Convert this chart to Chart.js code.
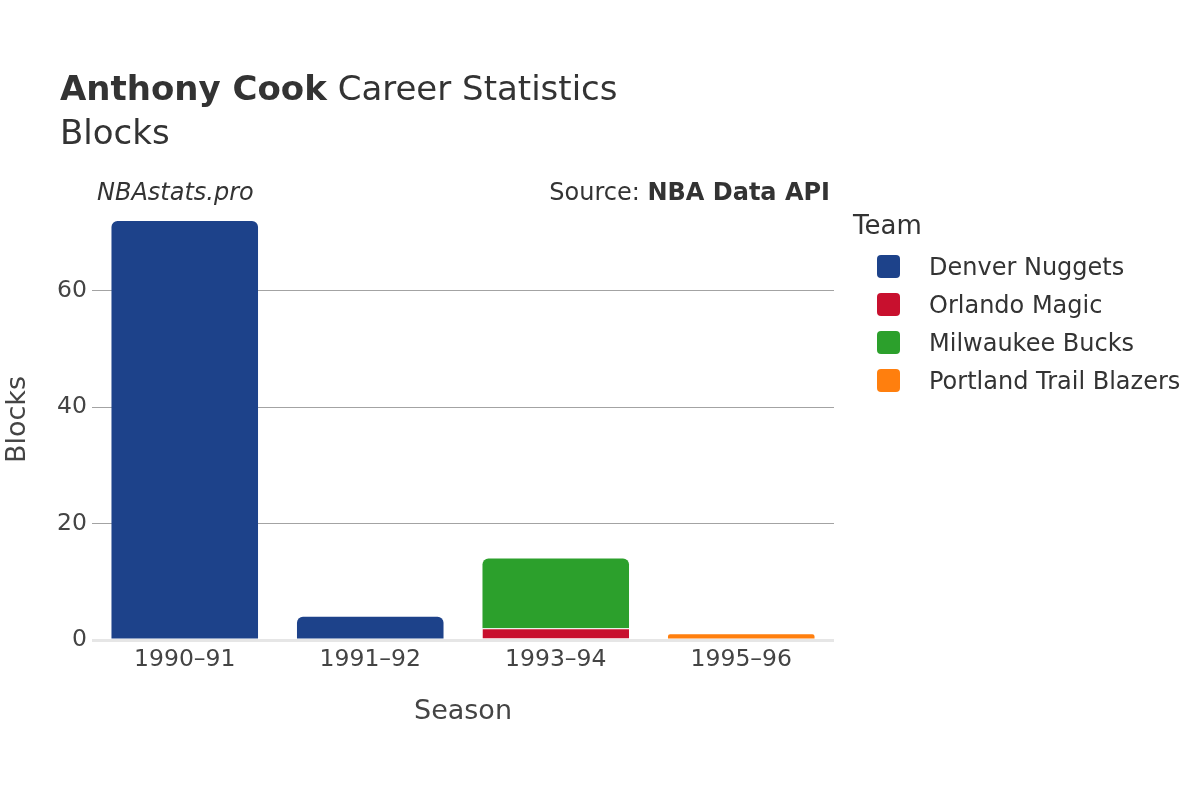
<!DOCTYPE html>
<html>
<head>
<meta charset="utf-8">
<script src="https://cdn.jsdelivr.net/npm/chart.js@4.4.1/dist/chart.umd.min.js"></script>
<style>
  html, body { margin: 0; padding: 0; background: #fff; }
  #wrap { position: relative; width: 1200px; height: 800px; font-family: "DejaVu Sans", sans-serif; color: #333; }
  #chart { position: absolute; left: 0; top: 0; }
  .txt { position: absolute; white-space: nowrap; line-height: 1; }
  #title { left: 60px; top: 71px; font-size: 34px; }
  #subtitle { left: 60px; top: 115px; font-size: 34px; }
  #credit { left: 97px; top: 180px; font-size: 24px; font-style: italic; }
  #source { right: 370px; top: 180px; font-size: 24px; }
  #legend { position: absolute; left: 853px; top: 212px; width: 347px; white-space: nowrap; }
  #legend .ttl { font-size: 26px; line-height: 1; margin-bottom: 12px; }
  #legend .item { position: relative; height: 38px; font-size: 24px; }
  #legend .sw { position: absolute; left: 24px; top: 5px; width: 23px; height: 23px; border-radius: 4px; }
  #legend .lbl { position: absolute; left: 76px; top: 5px; line-height: 1; white-space: nowrap; }
</style>
</head>
<body>
<div id="wrap">
  <canvas id="chart" width="1200" height="800"></canvas>
  <div class="txt" id="title"><b>Anthony Cook</b> Career Statistics</div>
  <div class="txt" id="subtitle">Blocks</div>
  <div class="txt" id="credit">NBAstats.pro</div>
  <div class="txt" id="source">Source: <b>NBA Data API</b></div>
  <div id="legend"><div class="ttl">Team</div></div>
</div>
<script>
// Blocks per season, stacked by team (null = did not play for that team)
const seasons = ['1990–91', '1991–92', '1993–94', '1995–96'];
const teams = ['Denver Nuggets', 'Orlando Magic', 'Milwaukee Bucks', 'Portland Trail Blazers'];
const teamColors = ['#1d428a', '#c8102e', '#2ca02c', '#ff7f0e'];
const denverBlocks = [72, 4, null, null];
const orlandoBlocks = [null, null, 2, null];
const milwaukeeBlocks = [null, null, 12, null];
const portlandBlocks = [null, null, null, 1];
const yTicks = [0, 20, 40, 60];

const teamValues = [denverBlocks, orlandoBlocks, milwaukeeBlocks, portlandBlocks];

// top segment of each stack gets the rounded corners, lower ones a thin white seam
function isTopOfStack(ctx) {
  const i = ctx.dataIndex;
  for (let d = teamValues.length - 1; d >= 0; d--) {
    if (teamValues[d][i]) return d === ctx.datasetIndex;
  }
  return false;
}

const legend = document.getElementById('legend');
teams.forEach((t, i) => {
  const row = document.createElement('div');
  row.className = 'item';
  row.innerHTML = '<span class="sw" style="background:' + teamColors[i] + '"></span><span class="lbl">' + t + '</span>';
  legend.appendChild(row);
});

new Chart(document.getElementById('chart'), {
  type: 'bar',
  data: {
    labels: seasons,
    datasets: teams.map((t, i) => ({
      label: t,
      data: teamValues[i],
      backgroundColor: teamColors[i],
      borderColor: '#fff',
      borderWidth: ctx => isTopOfStack(ctx) ? 0 : { top: 1, left: 0, right: 0, bottom: 0 },
      borderSkipped: 'start',
      borderRadius: ctx => isTopOfStack(ctx)
        ? { topLeft: 6, topRight: 6, bottomLeft: 0, bottomRight: 0 }
        : 0,
      barPercentage: 0.79,
      categoryPercentage: 1,
    })),
  },
  options: {
    responsive: false,
    animation: false,
    layout: { padding: { left: 0, top: 199, right: 366, bottom: 0 } },
    scales: {
      x: {
        stacked: true,
        grid: { display: false, drawTicks: false },
        border: { display: false },
        ticks: { color: '#444', padding: 6, font: { family: 'DejaVu Sans', size: 23.5 } },
        title: { display: true, text: 'Season', color: '#444', padding: { top: 0, bottom: 72 },
                 font: { family: 'DejaVu Sans', size: 27 } },
        afterFit: s => { s.height = 160; },
      },
      y: {
        stacked: true,
        min: 0,
        max: 75.8,
        afterBuildTicks: s => { s.ticks = yTicks.map(v => ({ value: v })); },
        grid: {
          drawTicks: false,
          color: c => c.tick && c.tick.value === 0 ? '#e6e6e6' : '#a3a3a3',
          lineWidth: c => c.tick && c.tick.value === 0 ? 3 : 1,
        },
        border: { display: false },
        ticks: { color: '#444', padding: 5, font: { family: 'DejaVu Sans', size: 23.5 } },
        title: { display: true, text: 'Blocks', color: '#444', padding: { top: 2, bottom: 0 },
                 font: { family: 'DejaVu Sans', size: 27 } },
        afterFit: s => { s.width = 92; },
      },
    },
    plugins: {
      legend: { display: false },
      tooltip: { enabled: false },
    },
  },
});
</script>
</body>
</html>
